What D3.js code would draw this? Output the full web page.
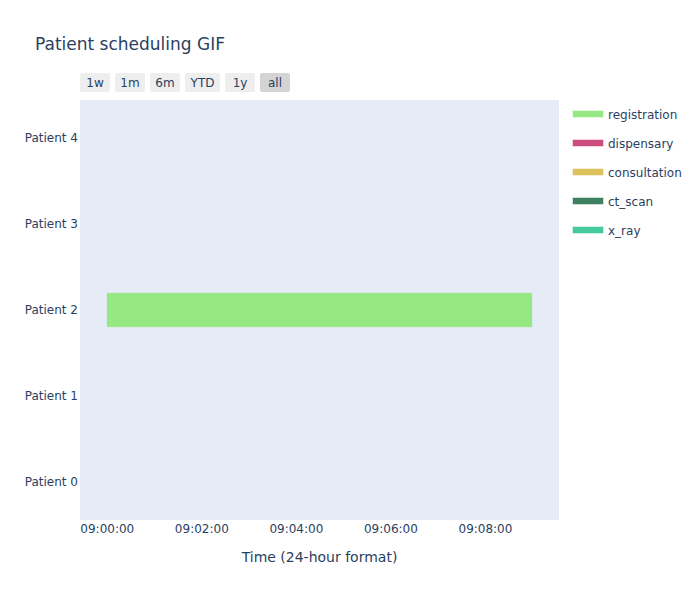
<!DOCTYPE html>
<html><head><meta charset="utf-8">
<script src="https://cdn.jsdelivr.net/npm/d3@7"></script>
<style>body{margin:0;background:#fff;} text{font-family:"DejaVu Sans",Verdana,sans-serif;}</style>
</head><body>
<svg id="chart" width="700" height="600"></svg>
<script>
const patients = ["Patient 0","Patient 1","Patient 2","Patient 3","Patient 4"];
const taskNames = ["registration","dispensary","consultation","ct_scan","x_ray"];
const taskColors = ["#95E882","#CC4C7E","#DCC25C","#3E8060","#45C99E"];
const barPatient = ["Patient 2"];
const barTask = ["registration"];
const barStart = ["2024-01-01 09:00:00"];
const barEnd = ["2024-01-01 09:09:00"];
const xDomain = ["2024-01-01 08:59:26", "2024-01-01 09:09:34"];
const rangeButtons = ["1w","1m","6m","YTD","1y","all"];

const parse = d3.timeParse("%Y-%m-%d %H:%M:%S");
const svg = d3.select("#chart");
const m = {l:80, r:141, t:100, b:80};
const W = 700, H = 600;
const pw = W - m.l - m.r, ph = H - m.t - m.b;
const fc = "#2a3f5f";

const x = d3.scaleTime().domain(xDomain.map(parse)).range([m.l, m.l + pw]);
const y = d3.scalePoint().domain(patients.slice().reverse()).range([m.t, m.t + ph]).padding(0.442);
const barH = y.step() * 0.4;
const color = d3.scaleOrdinal().domain(taskNames).range(taskColors);

svg.append("rect").attr("x", m.l).attr("y", m.t).attr("width", pw).attr("height", ph).attr("fill", "#E5ECF6");

const bars = barPatient.map((p,i)=>({p, task:barTask[i], s:parse(barStart[i]), e:parse(barEnd[i])}));
svg.append("g").selectAll("rect").data(bars).join("rect")
  .attr("x", d=>x(d.s)).attr("width", d=>x(d.e)-x(d.s))
  .attr("y", d=>y(d.p) - barH/2).attr("height", barH)
  .attr("fill", d=>color(d.task)).attr("stroke", "#E5ECF6").attr("stroke-width", 0.5);

// x axis
const xa = svg.append("g").attr("transform", `translate(0,${m.t+ph})`)
  .call(d3.axisBottom(x).ticks(d3.timeMinute.every(2)).tickFormat(d3.timeFormat("%H:%M:%S")).tickSize(0).tickPadding(4));
xa.select(".domain").remove();
xa.selectAll("text").attr("font-size", 12).attr("fill", fc).style("font-family", "DejaVu Sans, sans-serif");

// y axis
const ya = svg.append("g").attr("transform", `translate(${m.l},0)`)
  .call(d3.axisLeft(y).tickSize(0).tickPadding(2));
ya.select(".domain").remove();
ya.selectAll("text").attr("font-size", 12).attr("fill", fc).style("font-family", "DejaVu Sans, sans-serif");

// title
svg.append("text").attr("x", 35).attr("y", 50).attr("font-size", 17).attr("fill", fc).text("Patient scheduling GIF");

// axis title
svg.append("text").attr("x", m.l + pw/2).attr("y", 562).attr("text-anchor", "middle").attr("font-size", 14).attr("fill", fc).text("Time (24-hour format)");

// range selector buttons
const btnW = [30,30,30,35,30,30];
let bx = 80;
const bg = svg.append("g");
rangeButtons.forEach((b,i)=>{
  const g = bg.append("g").attr("transform", `translate(${bx},73)`);
  g.append("rect").attr("width", btnW[i]).attr("height", 19).attr("rx", 2)
    .attr("fill", b === "all" ? "#d4d4d4" : "#eeeeee");
  g.append("text").attr("x", btnW[i]/2).attr("y", 14).attr("text-anchor", "middle")
    .attr("font-size", 12).attr("fill", fc).text(b);
  bx += btnW[i] + 5;
});

// legend
const lg = svg.append("g").selectAll("g").data(taskNames).join("g")
  .attr("transform", (d,i)=>`translate(573,${114 + i*29})`);
lg.append("rect").attr("x", 0).attr("y", -3).attr("width", 30).attr("height", 6)
  .attr("fill", d=>color(d)).attr("stroke", d=>color(d)).attr("stroke-opacity", 0.5).attr("stroke-width", 1);
lg.append("text").attr("x", 35).attr("y", 5).attr("font-size", 12).attr("fill", fc).text(d=>d);
</script>
</body></html>
